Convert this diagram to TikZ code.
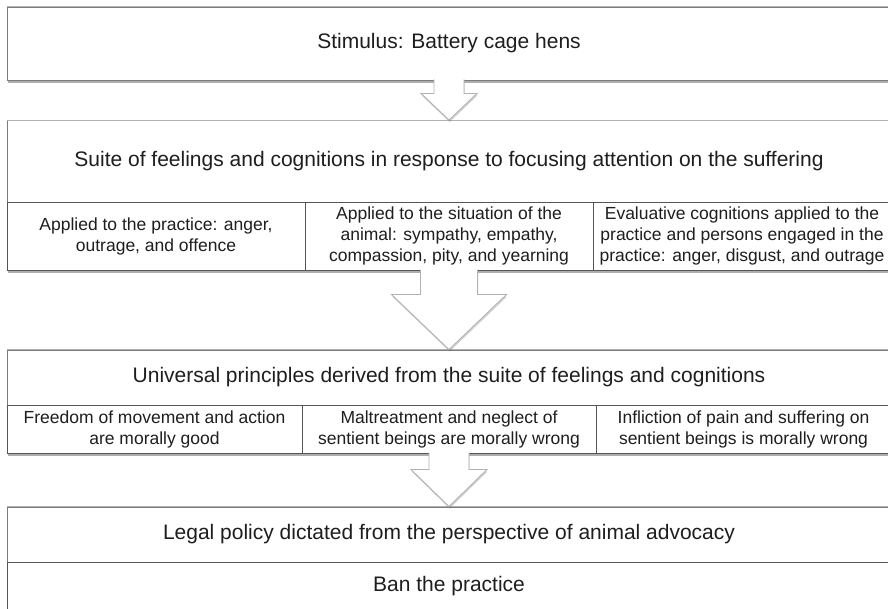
\documentclass[tikz,border=0pt]{standalone}
\usepackage{fontspec}
\setmainfont{Liberation Sans}
\usepackage{tikz}
\usetikzlibrary{positioning,calc,shadows}
\definecolor{edgegray}{HTML}{7C7C7C}
\definecolor{darkedge}{HTML}{555555}
\definecolor{lightedge}{HTML}{B2B2B2}
\definecolor{textgray}{HTML}{1E1E1E}

\begin{document}
\begin{tikzpicture}[
    x=1pt, y=-1pt,
    box/.style={draw=edgegray, fill=white, line width=0.9pt, inner sep=0pt, align=center,
                text=textgray, font=\fontsize{21}{25}\selectfont,
                drop shadow={shadow xshift=0.8pt, shadow yshift=-3pt, opacity=0.45, fill=black!70}},
    cell/.style={box, draw=darkedge, line width=1pt, font=\fontsize{17.5}{21}\selectfont},
    bancell/.style={cell, font=\fontsize{21}{25}\selectfont},
    blockarrow/.style={fill=white, draw=lightedge, line width=0.9pt, line join=miter,
                drop shadow={shadow xshift=0.6pt, shadow yshift=-2pt, opacity=0.25, fill=black!70}}
]
\useasboundingbox (0,0) rectangle (888,608);
\clip (0,0) rectangle (888,608);

% --- stimulus ---
\node[box, minimum width=884pt, minimum height=73pt] (stim) at (449,43.5) {Stimulus: Battery cage hens};

% --- feelings and cognitions ---
\node[box, minimum width=884pt, minimum height=82pt] (suite) at (449,161.5)
    {Suite of feelings and cognitions in response to focusing attention on the suffering};
\node[cell, minimum width=298pt, minimum height=68pt] (practice) at (156,236)
    {Applied to the practice: anger,\\outrage, and offence};
\node[cell, minimum width=288pt, minimum height=68pt] (animal) at (449,236)
    {Applied to the situation of the\\animal: sympathy, empathy,\\compassion, pity, and yearning};
\node[cell, minimum width=298pt, minimum height=68pt] (persons) at (742,236)
    {Evaluative cognitions applied to the\\practice and persons engaged in the\\practice: anger, disgust, and outrage};

% --- universal principles ---
\node[box, minimum width=884pt, minimum height=55pt] (univ) at (449,377.5)
    {Universal principles derived from the suite of feelings and cognitions};
\node[cell, minimum width=295pt, minimum height=48pt] (freedom) at (154.5,429)
    {Freedom of movement and action\\are morally good};
\node[cell, minimum width=294pt, minimum height=48pt] (neglect) at (449,429)
    {Maltreatment and neglect of\\sentient beings are morally wrong};
\node[cell, minimum width=295pt, minimum height=48pt] (pain) at (743.5,429)
    {Infliction of pain and suffering on\\sentient beings is morally wrong};

% --- legal policy ---
\node[box, minimum width=884pt, minimum height=55pt] (legal) at (449,534.5)
    {Legal policy dictated from the perspective of animal advocacy};
\node[bancell, minimum width=884pt, minimum height=48pt] (ban) at (449,586) {Ban the practice};

% lighter top edges
\draw[lightedge, line width=0.9pt] (stim.north west) -- (stim.north east);
\draw[lightedge, line width=0.9pt] (suite.north west) -- (suite.north east);
\draw[lightedge, line width=0.9pt] (univ.north west) -- (univ.north east);
\draw[lightedge, line width=0.9pt] (legal.north west) -- (legal.north east);

% --- block arrows ---
\filldraw[blockarrow] ($(stim.south)+(-15,-1)$) -- ($(stim.south)+(-15,13)$) -- ($(stim.south)+(-28,13)$)
    -- (suite.north) -- ($(stim.south)+(28,13)$) -- ($(stim.south)+(15,13)$) -- ($(stim.south)+(15,-1)$);
\filldraw[blockarrow] ($(animal.south)+(-28.5,-1)$) -- ($(animal.south)+(-28.5,24)$) -- ($(animal.south)+(-57.5,24)$)
    -- (univ.north) -- ($(animal.south)+(57.5,24)$) -- ($(animal.south)+(28.5,24)$) -- ($(animal.south)+(28.5,-1)$);
\filldraw[blockarrow] ($(neglect.south)+(-20,-1)$) -- ($(neglect.south)+(-20,16)$) -- ($(neglect.south)+(-38,16)$)
    -- (legal.north) -- ($(neglect.south)+(38,16)$) -- ($(neglect.south)+(20,16)$) -- ($(neglect.south)+(20,-1)$);

\end{tikzpicture}
\end{document}
